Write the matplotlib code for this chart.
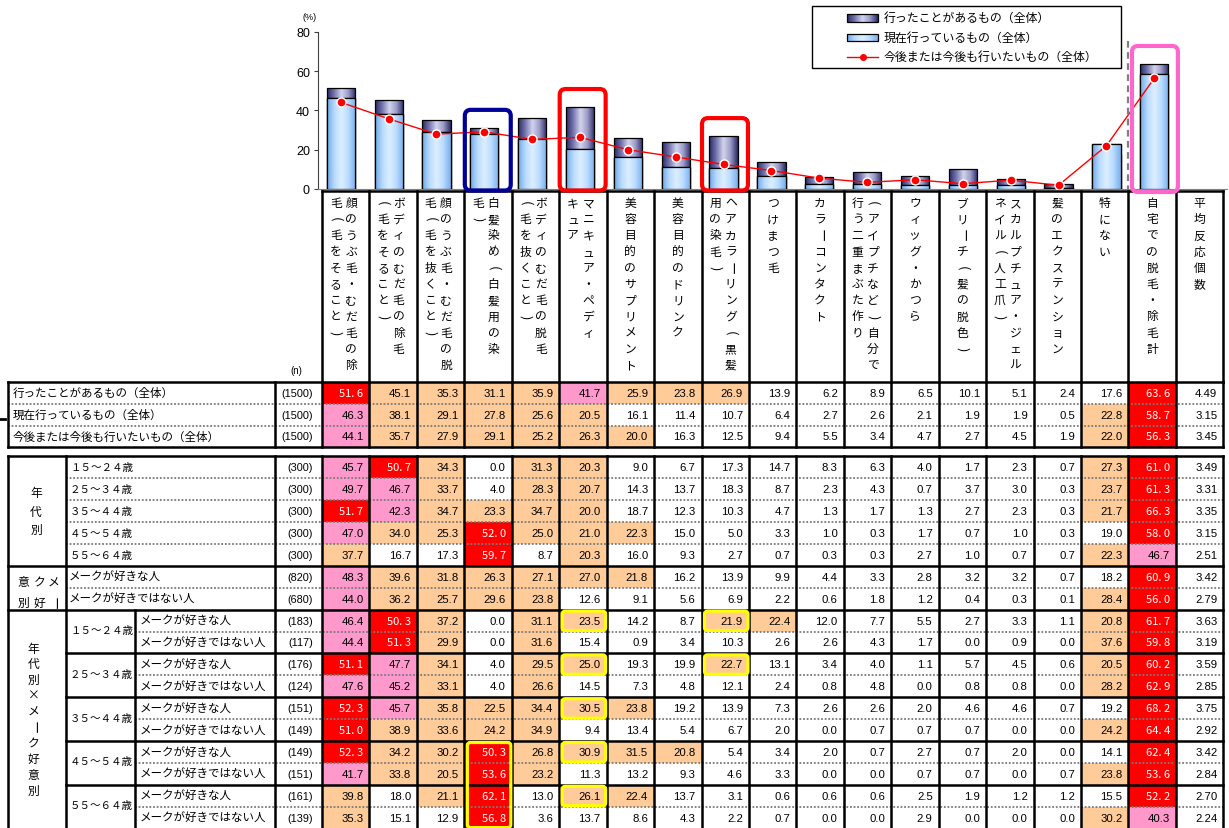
import numpy as np
import matplotlib
matplotlib.use("Agg")
import matplotlib.pyplot as plt
from matplotlib.patches import Rectangle, FancyBboxPatch
from matplotlib.colors import LinearSegmentedColormap
from matplotlib import font_manager

plt.rcParams['font.family'] = ['Noto Sans CJK JP', 'DejaVu Sans']

# ---- data ----
categories = [
    "顔のうぶ毛・むだ毛の除\n毛（毛をそること）",
    "ボディのむだ毛の除毛\n（毛をそること）",
    "顔のうぶ毛・むだ毛の脱\n毛（毛を抜くこと）",
    "白髪染め（白髪用の染\n毛）",
    "ボディのむだ毛の脱毛\n（毛を抜くこと）",
    "マニキュア・ペディ\nキュア",
    "美容目的のサプリメント",
    "美容目的のドリンク",
    "ヘアカラーリング（黒髪\n用の染毛）",
    "つけまつ毛",
    "カラーコンタクト",
    "（アイプチなど）自分で\n行う二重まぶた作り",
    "ウィッグ・かつら",
    "ブリーチ（髪の脱色）",
    "スカルプチュア・ジェル\nネイル（人工爪）",
    "髪のエクステンション",
    "特にない",
    "自宅での脱毛・除毛計",
    "平均反応個数",
]

ever = [51.6, 45.1, 35.3, 31.1, 35.9, 41.7, 25.9, 23.8, 26.9, 13.9, 6.2, 8.9, 6.5, 10.1, 5.1, 2.4, 17.6, 63.6]
current = [46.3, 38.1, 29.1, 27.8, 25.6, 20.5, 16.1, 11.4, 10.7, 6.4, 2.7, 2.6, 2.1, 1.9, 1.9, 0.5, 22.8, 58.7]
future = [44.1, 35.7, 27.9, 29.1, 25.2, 26.3, 20.0, 16.3, 12.5, 9.4, 5.5, 3.4, 4.7, 2.7, 4.5, 1.9, 22.0, 56.3]
total_avg = [4.49, 3.15, 3.45]
total_labels = ["行ったことがあるもの（全体）", "現在行っているもの（全体）", "今後または今後も行いたいもの（全体）"]
total_n = [1500, 1500, 1500]

age_labels = ["１５～２４歳", "２５～３４歳", "３５～４４歳", "４５～５４歳", "５５～６４歳"]
age_n = [300, 300, 300, 300, 300]
age_vals = [
    [45.7, 50.7, 34.3, 0.0, 31.3, 20.3, 9.0, 6.7, 17.3, 14.7, 8.3, 6.3, 4.0, 1.7, 2.3, 0.7, 27.3, 61.0, 3.49],
    [49.7, 46.7, 33.7, 4.0, 28.3, 20.7, 14.3, 13.7, 18.3, 8.7, 2.3, 4.3, 0.7, 3.7, 3.0, 0.3, 23.7, 61.3, 3.31],
    [51.7, 42.3, 34.7, 23.3, 34.7, 20.0, 18.7, 12.3, 10.3, 4.7, 1.3, 1.7, 1.3, 2.7, 2.3, 0.3, 21.7, 66.3, 3.35],
    [47.0, 34.0, 25.3, 52.0, 25.0, 21.0, 22.3, 15.0, 5.0, 3.3, 1.0, 0.3, 1.7, 0.7, 1.0, 0.3, 19.0, 58.0, 3.15],
    [37.7, 16.7, 17.3, 59.7, 8.7, 20.3, 16.0, 9.3, 2.7, 0.7, 0.3, 0.3, 2.7, 1.0, 0.7, 0.7, 22.3, 46.7, 2.51],
]

make_labels = ["メークが好きな人", "メークが好きではない人"]
make_n = [820, 680]
make_vals = [
    [48.3, 39.6, 31.8, 26.3, 27.1, 27.0, 21.8, 16.2, 13.9, 9.9, 4.4, 3.3, 2.8, 3.2, 3.2, 0.7, 18.2, 60.9, 3.42],
    [44.0, 36.2, 25.7, 29.6, 23.8, 12.6, 9.1, 5.6, 6.9, 2.2, 0.6, 1.8, 1.2, 0.4, 0.3, 0.1, 28.4, 56.0, 2.79],
]

cross_n = [183, 117, 176, 124, 151, 149, 149, 151, 161, 139]
cross_vals = [
    [46.4, 50.3, 37.2, 0.0, 31.1, 23.5, 14.2, 8.7, 21.9, 22.4, 12.0, 7.7, 5.5, 2.7, 3.3, 1.1, 20.8, 61.7, 3.63],
    [44.4, 51.3, 29.9, 0.0, 31.6, 15.4, 0.9, 3.4, 10.3, 2.6, 2.6, 4.3, 1.7, 0.0, 0.9, 0.0, 37.6, 59.8, 3.19],
    [51.1, 47.7, 34.1, 4.0, 29.5, 25.0, 19.3, 19.9, 22.7, 13.1, 3.4, 4.0, 1.1, 5.7, 4.5, 0.6, 20.5, 60.2, 3.59],
    [47.6, 45.2, 33.1, 4.0, 26.6, 14.5, 7.3, 4.8, 12.1, 2.4, 0.8, 4.8, 0.0, 0.8, 0.8, 0.0, 28.2, 62.9, 2.85],
    [52.3, 45.7, 35.8, 22.5, 34.4, 30.5, 23.8, 19.2, 13.9, 7.3, 2.6, 2.6, 2.0, 4.6, 4.6, 0.7, 19.2, 68.2, 3.75],
    [51.0, 38.9, 33.6, 24.2, 34.9, 9.4, 13.4, 5.4, 6.7, 2.0, 0.0, 0.7, 0.7, 0.7, 0.0, 0.0, 24.2, 64.4, 2.92],
    [52.3, 34.2, 30.2, 50.3, 26.8, 30.9, 31.5, 20.8, 5.4, 3.4, 2.0, 0.7, 2.7, 0.7, 2.0, 0.0, 14.1, 62.4, 3.42],
    [41.7, 33.8, 20.5, 53.6, 23.2, 11.3, 13.2, 9.3, 4.6, 3.3, 0.0, 0.0, 0.7, 0.7, 0.0, 0.7, 23.8, 53.6, 2.84],
    [39.8, 18.0, 21.1, 62.1, 13.0, 26.1, 22.4, 13.7, 3.1, 0.6, 0.6, 0.6, 2.5, 1.9, 1.2, 1.2, 15.5, 52.2, 2.70],
    [35.3, 15.1, 12.9, 56.8, 3.6, 13.7, 8.6, 4.3, 2.2, 0.7, 0.0, 0.0, 2.9, 0.0, 0.0, 0.0, 30.2, 40.3, 2.24],
]

# ---- layout (pixels) ----
W, H = 1229, 829
X0, XG, XS, XN, XD = 8.3, 65.7, 135.0, 275.0, 322.0
CW, RH = 47.44, 21.9
HT, T0, A0 = 192.0, 382.7, 457.3
NCOL = 19

RED, PINK, ORANGE = '#FF0000', '#FF99CC', '#FFCC99'
names = {f.name for f in font_manager.fontManager.ttflist}
NUMFONT = 'Liberation Sans Narrow' if 'Liberation Sans Narrow' in names else 'Liberation Sans'
JP = 'Noto Sans CJK JP'

fig = plt.figure(figsize=(12.29, 8.29), dpi=100)

# ---- bar chart ----
AX_L, AX_W = 318.3, 19 * 47.85
ax = fig.add_axes([AX_L / W, 1 - 190 / H, AX_W / W, 157.3 / H])
xs = np.arange(len(ever))

dark_cmap = LinearSegmentedColormap.from_list('d', ['#2A2A66', '#7676B0', '#D4D4EE', '#9A9AC8', '#2A2A66'])
light_cmap = LinearSegmentedColormap.from_list('l', ['#6EA8E6', '#B8DAFF', '#DDEFFF', '#B8DAFF', '#78B0EA'])
grad = np.linspace(0, 1, 64)[np.newaxis, :]


def shade(axis, bars, cmap, z):
    for b in bars:
        x0, y0 = b.get_x(), b.get_y()
        im = axis.imshow(grad, cmap=cmap, aspect='auto', zorder=z, interpolation='bilinear',
                         extent=(x0, x0 + b.get_width(), y0, y0 + b.get_height()))
        im.set_clip_path(b)


bw = 0.59
b1 = ax.bar(xs - 0.03, ever, width=bw, facecolor='none', edgecolor='black', linewidth=0.9, zorder=2.5)
shade(ax, b1, dark_cmap, 2)
b2 = ax.bar(xs - 0.03, current, width=bw, facecolor='white', edgecolor='black', linewidth=0.9, zorder=3)
shade(ax, b2, light_cmap, 3.2)
for b in b2:
    ax.add_patch(Rectangle((b.get_x(), 0), b.get_width(), b.get_height(), fill=False,
                           edgecolor='black', linewidth=0.9, zorder=3.4))
ax.plot(xs - 0.03, future, color='red', lw=1.0, marker='o', ms=6.5, mfc='red', mec='white', mew=1.0, zorder=5)

ax.set_xlim(-0.5, 18.5)
ax.set_ylim(0, 80)
ax.set_yticks([0, 20, 40, 60, 80])
ax.set_xticks([])
for s in ['top', 'right']:
    ax.spines[s].set_visible(False)
ax.spines['left'].set_color('#404040')
ax.spines['bottom'].set_color('#808080')
ax.tick_params(axis='y', direction='out', length=3, labelsize=9, pad=3, colors='#404040')
for t in ax.get_yticklabels():
    t.set_fontfamily('Liberation Sans')
    t.set_color('black')
ax.patch.set_alpha(0)

# ---- overlay (pixel coords) ----
ov = fig.add_axes([0, 0, 1, 1], zorder=10)
ov.set_xlim(0, W)
ov.set_ylim(H, 0)
ov.axis('off')
ov.patch.set_alpha(0)


def ypx(v):
    return 190 - v * 157.3 / 80


def col_x(c):
    return XD + c * CW


ov.text(310, 17, "(%)", fontsize=6.5, ha='center', va='center', fontfamily='Liberation Sans')

# highlight boxes over the chart
for c, col in [(3, '#000099'), (5, '#FF0000'), (8, '#FF0000'), (17, '#FF66CC')]:
    top = ypx(ever[c]) - 18
    bot = 193 if c == 17 else 191.5
    x0 = col_x(c) + (3.5 if c == 17 else 0.5)
    ov.add_patch(FancyBboxPatch((x0, top), CW - 1.5, bot - top,
                                boxstyle="round,pad=0,rounding_size=6", fill=False,
                                edgecolor=col, linewidth=3.0, zorder=6))

ov.plot([1128.3, 1128.3], [41.7, 190], color='#808080', lw=1.6, ls=(0, (3, 2)), zorder=4)

# legend
ov.add_patch(Rectangle((812.3, 7.3), 308.7, 61.7, facecolor='white', edgecolor='black', lw=1, zorder=6))
leg_items = ["行ったことがあるもの（全体）", "現在行っているもの（全体）", "今後または今後も行いたいもの（全体）"]
leg_y = [18.7, 38.3, 57.7]
for k, cm in enumerate([dark_cmap, light_cmap]):
    r = Rectangle((847.3, leg_y[k] - 3.8), 31, 7.6, facecolor='none', edgecolor='black', lw=0.9, zorder=8)
    ov.add_patch(r)
    im = ov.imshow(grad, cmap=cm, aspect='auto', zorder=7, extent=(847.3, 878.3, leg_y[k] + 3.8, leg_y[k] - 3.8))
    im.set_clip_path(r)
ov.plot([847.3, 878.3], [leg_y[2], leg_y[2]], color='red', lw=1, zorder=8)
ov.plot([862.8], [leg_y[2]], marker='o', ms=4, color='red', zorder=8)
for k, t in enumerate(leg_items):
    ov.text(883.3, leg_y[k], t, fontsize=8.6, va='center', ha='left', zorder=8)

# ---- table ----
THICK = 1.8
DASH = dict(color='#7a7a7a', lw=1.3, ls=(0, (1, 1)))


def cell_color(v, c):
    if c == 18:
        return 'white'
    if v >= 50:
        return RED
    if v >= 40:
        return PINK
    if v >= 20:
        return ORANGE
    return 'white'


overrides = {(0, 1): ORANGE}

rows = []
for k in range(3):
    vals = [ever, current, future][k] + [total_avg[k]]
    rows.append((T0 + k * RH, vals, total_n[k]))
for k in range(5):
    rows.append((A0 + k * RH, age_vals[k], age_n[k]))
for k in range(2):
    rows.append((A0 + (5 + k) * RH, make_vals[k], make_n[k]))
for k in range(10):
    rows.append((A0 + (7 + k) * RH, cross_vals[k], cross_n[k]))

XE = col_x(NCOL)
for ri, (y, vals, n) in enumerate(rows):
    for c, v in enumerate(vals):
        fc = overrides.get((ri, c), cell_color(v, c))
        ov.add_patch(Rectangle((col_x(c), y), CW, RH, facecolor=fc, edgecolor='none', zorder=1))
        if c == 18:
            s = f"{v:.2f}"
        else:
            s = f"{v:.1f}"
        if fc == RED:
            ov.text(col_x(c + 1) - 6, y + RH / 2, s.replace('.', '. '), color='white', fontsize=8,
                    ha='right', va='center', fontfamily=JP, zorder=3)
        else:
            ov.text(col_x(c + 1) - 6, y + RH / 2, s, color='black', fontsize=8.2,
                    ha='right', va='center', fontfamily=NUMFONT, zorder=3)
    ov.text(313, y + RH / 2, f"({n})", fontsize=7.8, ha='right', va='center',
            fontfamily=NUMFONT, zorder=3)

# header column lines + header texts
ov.plot([XD, XE], [HT, HT], color='black', lw=THICK, zorder=4)
for c in range(NCOL + 1):
    ov.plot([col_x(c), col_x(c)], [HT, T0], color='black', lw=THICK, zorder=4)
ov.text(296, 371, "(n)", fontsize=7, ha='center', va='center', fontfamily='Liberation Sans')

ROT = {'（': '(', '）': ')', 'ー': 'ー'}


def vtext(x, y0, s, step=16.2, size=8.5):
    for k, ch in enumerate(s):
        if ch in ROT:
            ov.text(x, y0 + k * step, ROT[ch], ha='center', va='center', rotation=-90,
                    rotation_mode='anchor', fontsize=size + 1, fontfamily=JP, zorder=3)
        else:
            ov.text(x, y0 + k * step, ch, ha='center', va='center', fontsize=size,
                    fontfamily=JP, zorder=3)


for c, name in enumerate(categories):
    cx = col_x(c) + CW / 2
    parts = name.split("\n")
    if len(parts) == 1:
        vtext(cx, 203.5, parts[0])
    else:
        vtext(cx + 5.5, 203.5, parts[0])
        vtext(cx - 10, 203.5, parts[1])

# block lines
blocks = [(T0, 3), (A0, 17)]
for yb, nr in blocks:
    yE = yb + nr * RH
    ov.plot([X0, XE], [yb, yb], color='black', lw=THICK, zorder=4)
    ov.plot([X0, XE], [yE, yE], color='black', lw=THICK, zorder=4)
    for xv in [X0, XN] + [col_x(c) for c in range(NCOL + 1)]:
        ov.plot([xv, xv], [yb, yE], color='black', lw=THICK, zorder=4)

# top block
for k in range(3):
    y = T0 + k * RH
    if k > 0:
        ov.plot([X0, XE], [y, y], zorder=2, **DASH)
    ov.text(12.7, y + RH / 2, total_labels[k], fontsize=8.3, va='center', ha='left', zorder=3)

# age block
ov.plot([XG, XG], [A0, A0 + 17 * RH], color='black', lw=THICK, zorder=4)
for k in range(5):
    y = A0 + k * RH
    if k > 0:
        ov.plot([XG, XE], [y, y], zorder=2, **DASH)
    ov.text(70, y + RH / 2, age_labels[k], fontsize=7.6, va='center', ha='left', zorder=3)
vtext(36, A0 + 2.5 * RH - 18.5, "年代別", step=18.5, size=8.5)

# make block
ym = A0 + 5 * RH
ov.plot([X0, XE], [ym, ym], color='black', lw=THICK, zorder=4)
ov.plot([XG, XE], [ym + RH, ym + RH], zorder=2, **DASH)
for k in range(2):
    ov.text(68.7, ym + (k + 0.5) * RH, make_labels[k], fontsize=8.3, va='center', ha='left', zorder=3)
for col_chars, xc in [("意別", 23.3), ("ク好", 39.3), ("メー", 53.3)]:
    vtext(xc, ym + 16, col_chars, step=20.6, size=8.5)

# cross block
yc = A0 + 7 * RH
ov.plot([X0, XE], [yc, yc], color='black', lw=THICK, zorder=4)
ov.plot([XS, XS], [yc, yc + 10 * RH], color='black', lw=THICK, zorder=4)
for g in range(5):
    y = yc + g * 2 * RH
    if g > 0:
        ov.plot([XG, XE], [y, y], color='black', lw=THICK, zorder=4)
    ov.plot([XS, XE], [y + RH, y + RH], zorder=2, **DASH)
    ov.text(70, y + RH - 1.5, age_labels[g], fontsize=7.6, va='center', ha='left', zorder=3)
    for k in range(2):
        ov.text(139.3, y + (k + 0.5) * RH, make_labels[k], fontsize=8.3, va='center', ha='left', zorder=3)
vtext(33.3, yc + 5 * RH - 4.5 * 15.8, "年代別×メーク好意別", step=15.8, size=8.5)

# yellow highlight boxes in the cross block
YEL = '#FFFF00'
hl = [(5, 0, 1), (5, 2, 1), (5, 4, 1), (5, 6, 1), (5, 8, 1), (8, 0, 1), (8, 2, 1), (3, 6, 4)]
for c, r0, nr in hl:
    ov.add_patch(FancyBboxPatch((col_x(c) + 3, yc + r0 * RH + 1.5), CW - 4, nr * RH - 2.5,
                                boxstyle="round,pad=0,rounding_size=3", fill=False,
                                edgecolor=YEL, linewidth=2.3, zorder=5))

# stray mark at the left edge
ov.plot([0, 5], [419.5, 419.5], color='black', lw=2, zorder=4)

ov.set_xlim(0, W)
ov.set_ylim(H, 0)
fig.savefig("out.png", dpi=100)
